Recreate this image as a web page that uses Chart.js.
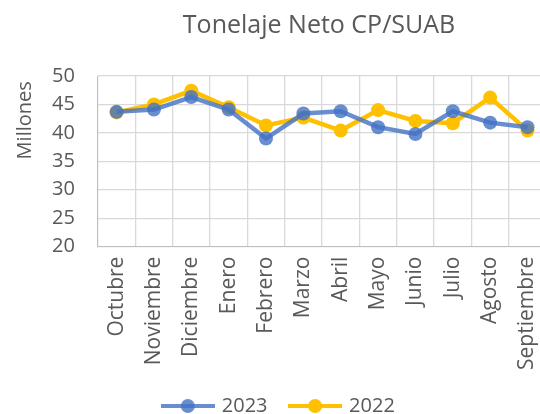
<!DOCTYPE html>
<html>
<head>
<meta charset="utf-8">
<script src="https://cdn.jsdelivr.net/npm/chart.js@4"></script>
<style>
  html, body { margin: 0; padding: 0; background: #fff; overflow: hidden; }
  #wrap { width: 563px; height: 426px; }
</style>
</head>
<body>
<div id="wrap"><canvas id="tonelajeChart"></canvas></div>
<script>
// Months of the fiscal year (Oct - Sep)
const meses = ['Octubre', 'Noviembre', 'Diciembre', 'Enero', 'Febrero', 'Marzo',
               'Abril', 'Mayo', 'Junio', 'Julio', 'Agosto', 'Septiembre'];

// Net tonnage, millions
const valores2023 = [43.7, 44.1, 46.3, 44.1, 39.0, 43.4, 43.8, 41.0, 39.8, 43.8, 41.8, 41.0];
const valores2022 = [43.6, 45.0, 47.4, 44.5, 41.3, 42.7, 40.4, 44.0, 42.1, 41.7, 46.2, 40.4];

const ticksY = [20, 25, 30, 35, 40, 45, 50];

const textColor = '#595959';
const fontFamily = '"Open Sans", sans-serif';
const azul = 'rgba(68,114,196,0.8)';
const amarillo = '#FFC000';

// little line + marker image for the legend
function marcaLeyenda(color) {
    const c = document.createElement('canvas');
    c.width = 54;
    c.height = 16;
    const g = c.getContext('2d');
    g.strokeStyle = color;
    g.lineWidth = 4;
    g.beginPath();
    g.moveTo(0, 8);
    g.lineTo(54, 8);
    g.stroke();
    g.fillStyle = color;
    g.beginPath();
    g.arc(27, 8, 7, 0, Math.PI * 2);
    g.fill();
    return c;
}

// title centered over the plot area, like the original
const tituloPlugin = {
    id: 'tituloArea',
    afterDraw(chart) {
        const ctx = chart.ctx;
        const area = chart.chartArea;
        ctx.save();
        ctx.font = '25px ' + fontFamily;
        ctx.fillStyle = textColor;
        ctx.textAlign = 'center';
        ctx.textBaseline = 'middle';
        ctx.fillText('Tonelaje Neto CP/SUAB', (area.left + area.right) / 2 - 3, 26);
        ctx.restore();
    }
};

new Chart(document.getElementById('tonelajeChart').getContext('2d'), {
    type: 'line',
    data: {
        labels: meses,
        datasets: [{
            label: '2023',
            data: valores2023,
            borderColor: azul,
            backgroundColor: azul,
            borderWidth: 4.5,
            pointRadius: 7,
            pointBorderWidth: 0,
            pointHoverRadius: 7,
            tension: 0
        }, {
            label: '2022',
            data: valores2022,
            borderColor: amarillo,
            backgroundColor: amarillo,
            borderWidth: 4.5,
            pointRadius: 7,
            pointBorderWidth: 0,
            pointHoverRadius: 7,
            tension: 0
        }]
    },
    options: {
        responsive: true,
        maintainAspectRatio: false,
        animation: false,
        layout: { padding: { top: 76, left: 6, right: 0, bottom: 0 } },
        plugins: {
            title: { display: false },
            tooltip: { enabled: false },
            legend: {
                position: 'bottom',
                labels: {
                    font: { family: fontFamily, size: 20 },
                    color: textColor,
                    usePointStyle: true,
                    pointStyleWidth: 48,
                    padding: 8,
                    // trailing spaces: gap between entries and a small shift to the left
                    generateLabels: chart => chart.data.datasets.map((ds, i) => ({
                        text: ds.label + (i === 0 ? '   ' : '  '),
                        fontColor: textColor,
                        pointStyle: marcaLeyenda(ds.borderColor),
                        datasetIndex: i,
                        hidden: false,
                        lineWidth: 0
                    }))
                }
            }
        },
        scales: {
            x: {
                offset: true,
                afterFit: axis => { axis.height += 8; },
                grid: { color: '#d9d9d9', lineWidth: 1.3, offset: true, drawTicks: false },
                border: { color: '#bfbfbf' },
                ticks: {
                    font: { family: fontFamily, size: 21 },
                    color: textColor,
                    minRotation: 90,
                    maxRotation: 90,
                    padding: 10,
                    autoSkip: false
                }
            },
            y: {
                min: ticksY[0],
                max: ticksY[ticksY.length - 1],
                afterBuildTicks: axis => { axis.ticks = ticksY.map(v => ({ value: v })); },
                grid: { color: '#d9d9d9', lineWidth: 1.3, drawTicks: false },
                border: { color: '#bfbfbf' },
                ticks: {
                    font: { family: fontFamily, size: 20 },
                    color: textColor,
                    padding: 23
                },
                title: {
                    display: true,
                    text: 'Millones ',
                    align: 'end',
                    font: { family: fontFamily, size: 20 },
                    color: textColor,
                    padding: { top: 7, bottom: -8 }
                }
            }
        }
    },
    plugins: [tituloPlugin]
});
</script>
</body>
</html>
